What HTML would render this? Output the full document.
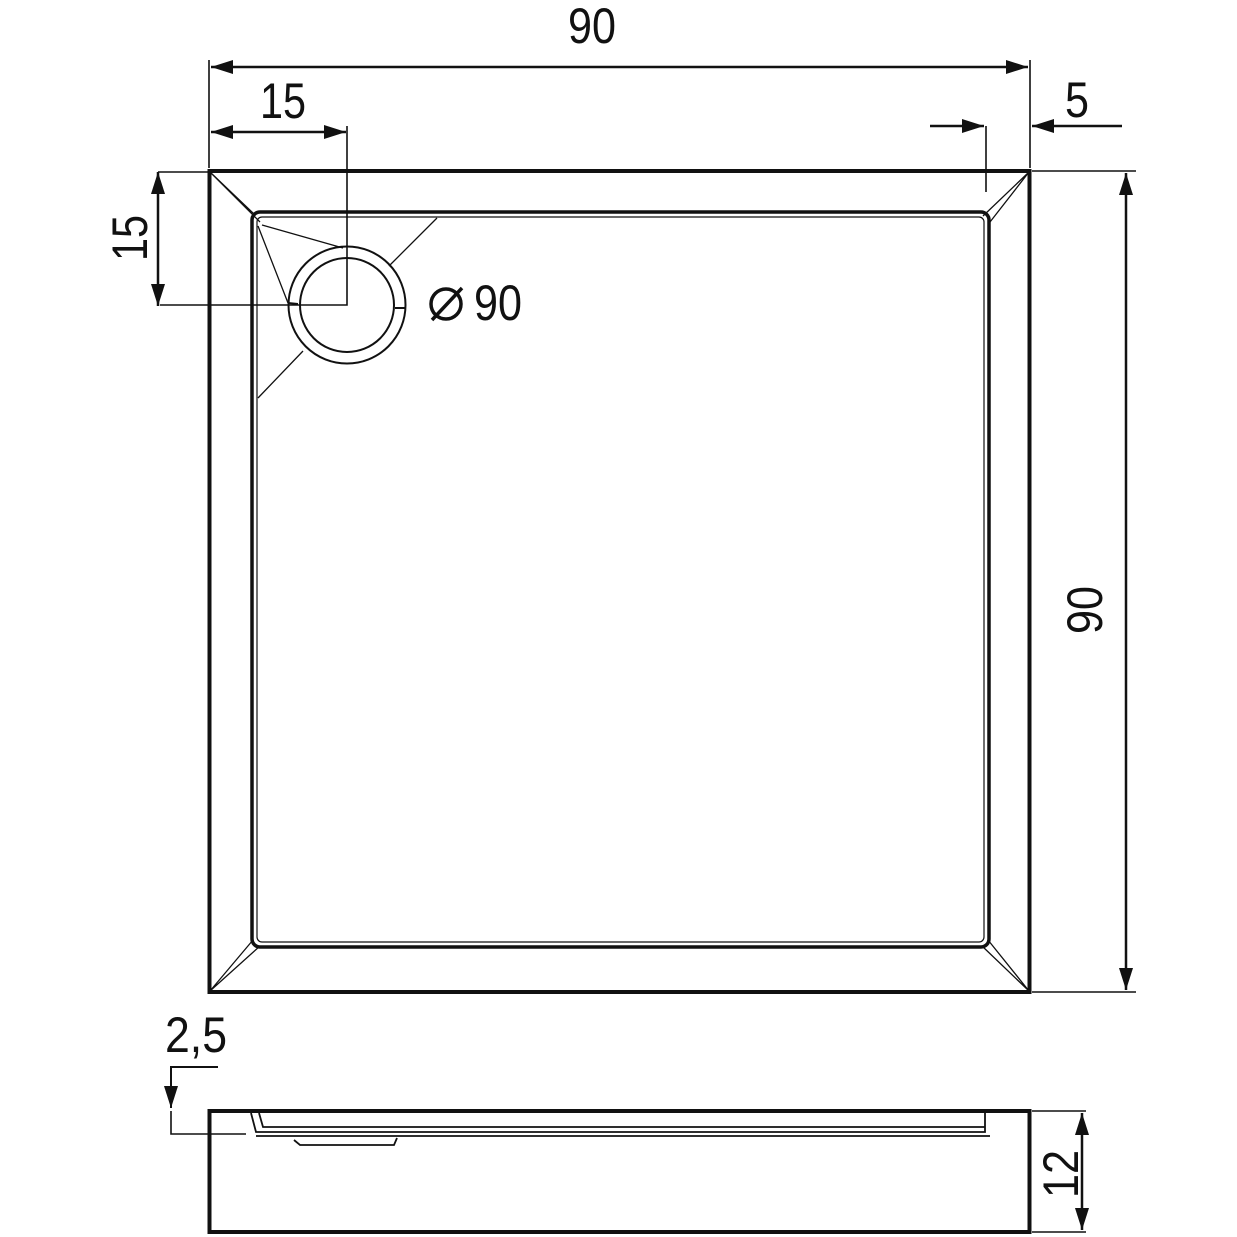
<!DOCTYPE html>
<html><head><meta charset="utf-8"><style>
html,body{margin:0;padding:0;background:#fff}
svg{display:block}
text{font-family:"Liberation Sans",sans-serif;fill:#111;font-size:50px}
</style></head><body>
<svg width="1237" height="1237" viewBox="0 0 1237 1237" xmlns="http://www.w3.org/2000/svg">
<defs>
<marker id="a" viewBox="0 0 22 14" refX="22" refY="7" markerWidth="22" markerHeight="14" markerUnits="userSpaceOnUse" orient="auto-start-reverse"><path d="M0,0L22,7L0,14z" fill="#111"/></marker>
</defs>
<g stroke="#111" fill="none">
<rect x="209.5" y="171" width="820" height="821" stroke-width="4"/>
<rect x="252" y="212" width="737" height="735" rx="8" stroke-width="3.5"/>
<rect x="257" y="217" width="727" height="725" rx="5" stroke-width="1.2"/>
<g stroke-width="1.3">
<path d="M210,172L254,214M210,172L260,222"/>
<path d="M1029,172L983,216M1029,172L990,222"/>
<path d="M210,991L253,940M210,991L260,946"/>
<path d="M1029,991L988,940M1029,991L982,946"/>
<path d="M262,225L343,248M258,226L288,303"/>
<path d="M437,218L389,266M258,398L303,351"/>
</g>
<circle cx="347" cy="305" r="58.5" stroke-width="2"/>
<circle cx="347" cy="305" r="47" stroke-width="2"/>
<path d="M288,303L298,304M395,308L405,308" stroke-width="2"/>
<g stroke-width="1.6">
<path d="M209,60V168M1030,60V168"/>
<path d="M211,67H1028" marker-start="url(#a)" marker-end="url(#a)" stroke-width="2.5"/>
<path d="M347,126V305H160M986,126V192"/>
<path d="M211,132H346" marker-start="url(#a)" marker-end="url(#a)" stroke-width="2.5"/>
<path d="M930,126H984" marker-end="url(#a)" stroke-width="2.5"/>
<path d="M1122,126H1032" marker-end="url(#a)" stroke-width="2.5"/>
<path d="M158,172H209M1032,171H1136M1032,992H1136"/>
<path d="M158,172V306" marker-start="url(#a)" marker-end="url(#a)" stroke-width="2.5"/>
<path d="M1126,173V990" marker-start="url(#a)" marker-end="url(#a)" stroke-width="2.5"/>
</g>
<rect x="209.5" y="1111" width="820" height="121" stroke-width="4"/>
<g stroke-width="1.6">
<path d="M218,1067H171V1108" marker-end="url(#a)" stroke-width="2"/>
<path d="M171,1111V1134H246M1032,1111H1086M1032,1232H1086"/>
<path d="M1082,1113V1230" marker-start="url(#a)" marker-end="url(#a)" stroke-width="2.5"/>
<path d="M251,1113L256,1132H985V1113M259,1113L263,1127H985" stroke-width="1.8"/>
<path d="M256,1136H990M294,1140L300,1145H394L397,1138" stroke-width="1.8"/>
</g>
<circle cx="446" cy="304" r="15" stroke-width="3.5"/>
<path d="M432,320L462,288" stroke-width="3.5"/>
</g>
<text x="568" y="43" textLength="48" lengthAdjust="spacingAndGlyphs">90</text>
<text x="260" y="118" textLength="46" lengthAdjust="spacingAndGlyphs">15</text>
<text x="1065" y="117" textLength="24" lengthAdjust="spacingAndGlyphs">5</text>
<text x="474" y="320" textLength="48" lengthAdjust="spacingAndGlyphs">90</text>
<text x="165" y="1052" textLength="62" lengthAdjust="spacingAndGlyphs">2,5</text>
<text transform="translate(147,238) rotate(-90)" x="-23" textLength="46" lengthAdjust="spacingAndGlyphs">15</text>
<text transform="translate(1102,610) rotate(-90)" x="-24" textLength="48" lengthAdjust="spacingAndGlyphs">90</text>
<text transform="translate(1078,1174) rotate(-90)" x="-24" textLength="48" lengthAdjust="spacingAndGlyphs">12</text>
</svg>
</body></html>
